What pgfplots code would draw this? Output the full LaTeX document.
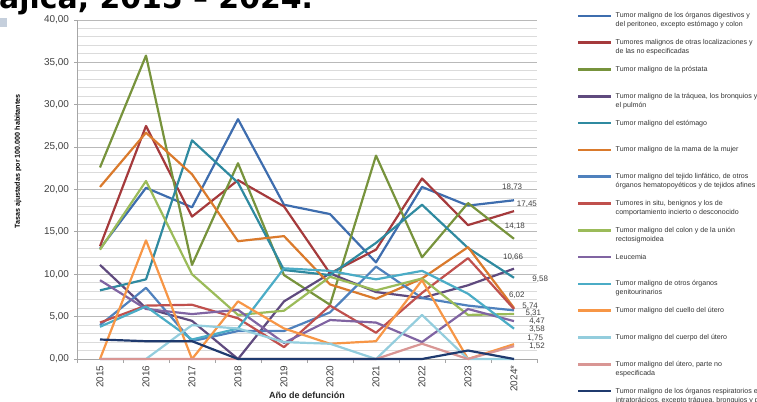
\documentclass[border=0pt]{standalone}
\usepackage{fontspec}
\setmainfont{Liberation Sans}
\newfontfamily\titlefont{DejaVu Sans}
\usepackage{pgfplots}
\pgfplotsset{compat=1.18}

\definecolor{cDig}{HTML}{3E6DAE}
\definecolor{cOtr}{HTML}{A53A3C}
\definecolor{cPro}{HTML}{77933C}
\definecolor{cTra}{HTML}{5F4A7E}
\definecolor{cEst}{HTML}{2F8AA0}
\definecolor{cMam}{HTML}{DA7A2C}
\definecolor{cLin}{HTML}{4F81BD}
\definecolor{cSit}{HTML}{C0504D}
\definecolor{cCol}{HTML}{9BBB59}
\definecolor{cLeu}{HTML}{8064A2}
\definecolor{cGen}{HTML}{4BACC6}
\definecolor{cCue}{HTML}{F79646}
\definecolor{cCpo}{HTML}{93CDDD}
\definecolor{cUte}{HTML}{D99694}
\definecolor{cRes}{HTML}{1F3A6E}
\definecolor{cSq}{HTML}{C5CFDC}
\definecolor{txt}{HTML}{404040}

\newcommand\legtxt[1]{\parbox[t][18bp][t]{170bp}{\raggedright #1}}

\begin{document}
\begin{tikzpicture}[x=1bp,y=1bp]
\useasboundingbox (0,0) rectangle (757,401);
\node[anchor=base west, inner sep=0pt, font=\titlefont\bfseries\fontsize{30}{30}\selectfont] at (-1,392.5) {\llap{C}ajicá, 2015 – 2024.};
\fill[cSq] (0,374) rectangle (7,383);

\begin{axis}[
  at={(77bp,42bp)}, anchor=south west,
  scale only axis, width=460bp, height=339bp,
  xmin=-0.5, xmax=9.5, ymin=0, ymax=40,
  clip=false,
  axis lines=left,
  axis line style={-, draw=gray!70, line width=0.8bp},
  xtick={0,...,9},
  xticklabels={2015,2016,2017,2018,2019,2020,2021,2022,2023,2024*},
  minor xtick={-0.5,0.5,...,9.5},
  ytick={0,5,...,40},
  yticklabels={{0,00},{5,00},{10,00},{15,00},{20,00},{25,00},{30,00},{35,00},{40,00}},
  minor ytick={1,2,...,39},
  xtick align=outside, ytick align=outside,
  major tick length=3bp, minor tick length=4bp,
  major x tick style={draw=none},
  minor x tick style={draw=gray!70, line width=0.8bp},
  major y tick style={draw=gray!70, line width=0.8bp},
  minor y tick style={draw=none},
  ymajorgrids, yminorgrids,
  major grid style={draw=gray!55, line width=0.9bp},
  minor grid style={draw=gray!28, line width=0.9bp},
  x tick label style={rotate=90, anchor=east, font=\fontsize{10}{10}\selectfont, text=txt},
  y tick label style={font=\fontsize{10}{10}\selectfont, text=txt, xshift=-1.5bp},
  every axis plot/.append style={line width=2.2bp, line join=round, no markers},
  legend cell align=left,
  legend image code/.code={\draw[#1, line width=2.5bp] (0bp,2.1bp) -- (33bp,2.1bp);},
  legend style={at={(1.087,1.022)}, anchor=north west, draw=none, fill=none,
    inner sep=0pt, row sep=8.8bp, column sep=3bp,
    cells={anchor=base west}, nodes={inner sep=0pt, text depth=, text=black!80},
    font=\fontsize{7.1}{9}\selectfont},
]
\addplot[cDig] coordinates {(0,13.0) (1,20.2) (2,17.9) (3,28.3) (4,18.2) (5,17.1) (6,11.4) (7,20.3) (8,18.1) (9,18.73)};
\addlegendentry{\legtxt{Tumor maligno de los órganos digestivos y\\del peritoneo, excepto estómago y colon}}
\addplot[cOtr] coordinates {(0,13.3) (1,27.5) (2,16.8) (3,21.1) (4,18.0) (5,10.1) (6,12.9) (7,21.3) (8,15.8) (9,17.45)};
\addlegendentry{\legtxt{Tumores malignos de otras localizaciones y\\de las no especificadas}}
\addplot[cPro] coordinates {(0,22.6) (1,35.8) (2,11.1) (3,23.1) (4,9.9) (5,6.4) (6,24.0) (7,12.0) (8,18.4) (9,14.18)};
\addlegendentry{\legtxt{Tumor maligno de la próstata}}
\addplot[cTra] coordinates {(0,11.1) (1,6.0) (2,4.5) (3,0.0) (4,6.8) (5,10.1) (6,7.9) (7,7.2) (8,8.7) (9,10.66)};
\addlegendentry{\legtxt{Tumor maligno de la tráquea, los bronquios y\\el pulmón}}
\addplot[cEst] coordinates {(0,8.1) (1,9.4) (2,25.8) (3,20.8) (4,10.5) (5,9.9) (6,13.7) (7,18.2) (8,13.1) (9,9.58)};
\addlegendentry{\legtxt{Tumor maligno del estómago}}
\addplot[cMam] coordinates {(0,20.3) (1,26.7) (2,21.8) (3,13.9) (4,14.5) (5,8.8) (6,7.1) (7,9.5) (8,13.2) (9,6.02)};
\addlegendentry{\legtxt{Tumor maligno de la mama de la mujer}}
\addplot[cLin] coordinates {(0,4.0) (1,8.4) (2,2.1) (3,3.3) (4,3.3) (5,5.5) (6,10.9) (7,7.2) (8,6.3) (9,5.74)};
\addlegendentry{\legtxt{Tumor maligno del tejido linfático, de otros\\órganos hematopoyéticos y de tejidos afines}}
\addplot[cSit] coordinates {(0,4.3) (1,6.3) (2,6.4) (3,4.8) (4,1.4) (5,6.3) (6,3.1) (7,7.8) (8,11.9) (9,5.9)};
\addlegendentry{\legtxt{Tumores in situ, benignos y los de\\comportamiento incierto o desconocido}}
\addplot[cCol] coordinates {(0,12.9) (1,21.0) (2,10.0) (3,5.2) (4,5.7) (5,9.7) (6,8.1) (7,9.5) (8,5.2) (9,5.31)};
\addlegendentry{\legtxt{Tumor maligno del colon y de la unión\\rectosigmoidea}}
\addplot[cLeu] coordinates {(0,9.3) (1,5.9) (2,5.3) (3,5.8) (4,1.9) (5,4.6) (6,4.3) (7,2.0) (8,5.9) (9,4.47)};
\addlegendentry{\legtxt{Leucemia}}
\addplot[cGen] coordinates {(0,3.8) (1,6.2) (2,2.3) (3,3.6) (4,10.7) (5,10.4) (6,9.4) (7,10.4) (8,7.7) (9,3.58)};
\addlegendentry{\legtxt{Tumor maligno de otros órganos\\genitourinarios}}
\addplot[cCue] coordinates {(0,0) (1,14.0) (2,0) (3,6.8) (4,3.6) (5,1.8) (6,2.1) (7,9.3) (8,0) (9,1.75)};
\addlegendentry{\legtxt{Tumor maligno del cuello del útero}}
\addplot[cCpo] coordinates {(0,0) (1,0) (2,4.0) (3,3.6) (4,2.0) (5,1.8) (6,0) (7,5.2) (8,0) (9,0)};
\addlegendentry{\legtxt{Tumor maligno del cuerpo del útero}}
\addplot[cUte] coordinates {(0,0) (1,0) (2,0) (3,0) (4,0) (5,0) (6,0) (7,1.8) (8,0) (9,1.52)};
\addlegendentry{\legtxt{Tumor maligno del útero, parte no\\especificada}}
\addplot[cRes] coordinates {(0,2.3) (1,2.1) (2,2.1) (3,0) (4,0) (5,0) (6,0) (7,0) (8,1.0) (9,0)};
\addlegendentry{\legtxt{Tumor maligno de los órganos respiratorios e\\intratorácicos, excepto tráquea, bronquios y pulmón}}

\begin{scope}[every node/.style={font=\fontsize{8}{8}\selectfont, text=txt, inner sep=0pt}]
\node at (axis cs:8.96,20.3) {18,73};
\node at (axis cs:9.28,18.3) {17,45};
\node at (axis cs:9.02,15.7) {14,18};
\node at (axis cs:8.98,12.0) {10,66};
\node at (axis cs:9.57,9.4) {9,58};
\node at (axis cs:9.06,7.55) {6,02};
\node at (axis cs:9.35,6.25) {5,74};
\node at (axis cs:9.42,5.4) {5,31};
\node at (axis cs:9.5,4.4) {4,47};
\node at (axis cs:9.5,3.5) {3,58};
\node at (axis cs:9.46,2.5) {1,75};
\node at (axis cs:9.5,1.5) {1,52};
\end{scope}
\end{axis}

\node[rotate=90, font=\bfseries\fontsize{7.2}{8}\selectfont] at (18,239.5) {Tasas ajustadas por 100.000 habitantes};
\node[anchor=base, font=\bfseries\fontsize{9}{10}\selectfont, text=black!85] at (307,2.5) {Año de defunción};
\end{tikzpicture}
\end{document}
